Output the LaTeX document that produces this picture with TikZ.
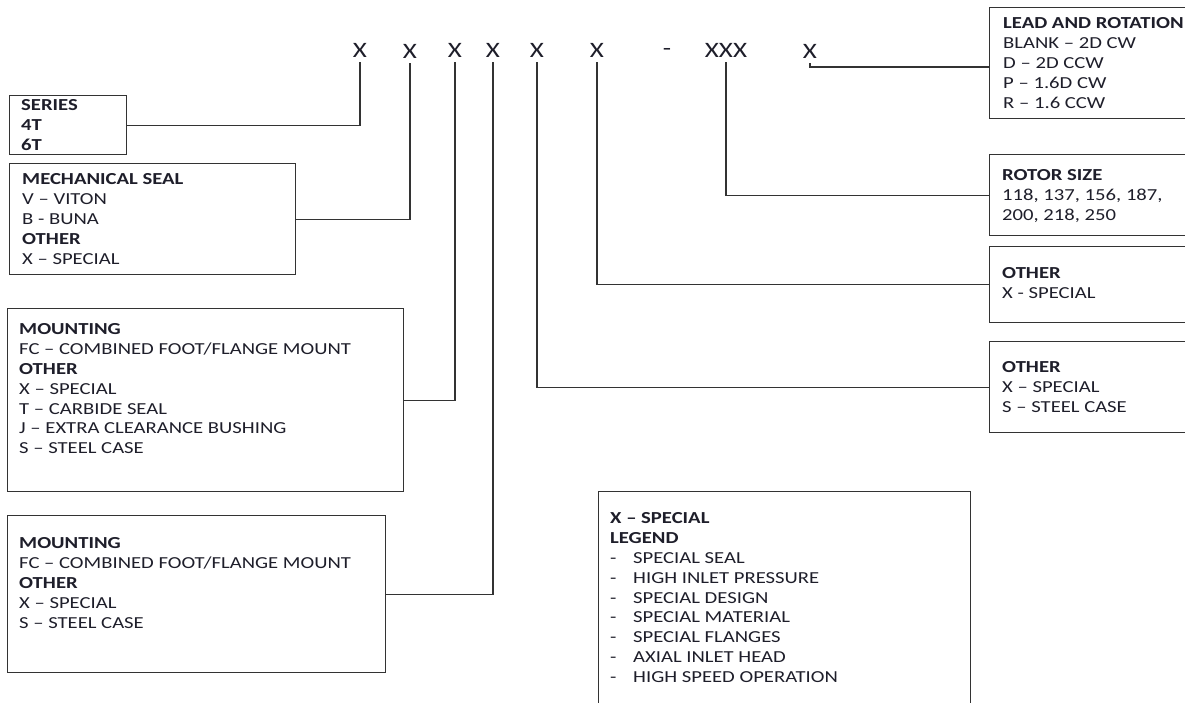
\documentclass[tikz,border=0pt]{standalone}
\usepackage{fontspec}
\setmainfont{Carlito}[FakeStretch=1.23]
\definecolor{txt}{HTML}{1E1E2A}
\definecolor{ln}{HTML}{333333}
\begin{document}
\begin{tikzpicture}[x=1pt,y=-1pt,
  letter/.style={inner sep=0pt,minimum height=24pt,font=\fontsize{22}{24}\selectfont,text=txt},
  box/.style={draw=ln,line width=1.2pt,anchor=north west,inner sep=0pt},
  label/.style={anchor=north west,yshift=13.2pt,inner sep=0pt,align=left,text=txt,font=\fontsize{16.8}{19.8}\selectfont},
  conn/.style={draw=ln,line width=1.2pt}]
\useasboundingbox (0,0) rectangle (1185,702);
\clip (0,0) rectangle (1185,702);
% code letters
\node[letter] (x1) at (360,50) {X};
\node[letter] (x2) at (410,51) {X};
\node[letter] (x3) at (455,50) {X};
\node[letter] (x4) at (493,50) {X};
\node[letter] (x5) at (537,50) {X};
\node[letter] (x6) at (597,50) {X};
\node[letter] (dash) at (667,52) {-};
\node[letter] (x7) at (726,50) {XXX};
\node[letter] (x8) at (810,51) {X};
% left boxes
\node[box,minimum width=117pt,minimum height=59pt] (series) at (9,95) {};
\node[label] (seriest) at (21,110) {\strut\textbf{SERIES}\\\textbf{4T}\\\textbf{6T}};
\node[box,minimum width=286pt,minimum height=111pt] (mech) at (9,163) {};
\node[label] (mecht) at (22,184) {\strut\textbf{MECHANICAL SEAL}\\V -- VITON\\B - BUNA\\\textbf{OTHER}\\X -- SPECIAL};
\node[box,minimum width=396pt,minimum height=183pt] (mount1) at (7,308) {};
\node[label] (mount1t) at (19,334) {\strut\textbf{MOUNTING}\\FC -- COMBINED FOOT/FLANGE MOUNT\\\textbf{OTHER}\\X -- SPECIAL\\T -- CARBIDE SEAL\\J -- EXTRA CLEARANCE BUSHING\\S -- STEEL CASE};
\node[box,minimum width=378pt,minimum height=157pt] (mount2) at (7,515) {};
\node[label] (mount2t) at (19,548) {\strut\textbf{MOUNTING}\\FC -- COMBINED FOOT/FLANGE MOUNT\\\textbf{OTHER}\\X -- SPECIAL\\S -- STEEL CASE};
% right boxes
\node[box,minimum width=210pt,minimum height=111pt] (lead) at (989,7) {};
\node[label] (leadt) at (1003,28) {\strut\textbf{LEAD AND ROTATION}\\BLANK -- 2D CW\\D -- 2D CCW\\P -- 1.6D CW\\R -- 1.6 CCW};
\node[box,minimum width=210pt,minimum height=81pt] (rotor) at (989,154) {};
\node[label] (rotort) at (1002,180) {\strut\textbf{ROTOR SIZE}\\118, 137, 156, 187,\\200, 218, 250};
\node[box,minimum width=210pt,minimum height=76pt] (other1) at (989,246) {};
\node[label] (other1t) at (1002,278) {\strut\textbf{OTHER}\\X - SPECIAL};
\node[box,minimum width=210pt,minimum height=91pt] (other2) at (989,341) {};
\node[label] (other2t) at (1002,372) {\strut\textbf{OTHER}\\X -- SPECIAL\\S -- STEEL CASE};
% legend
\node[box,minimum width=372pt,minimum height=230pt] (legend) at (598,491) {};
\node[label] (legendt) at (610,523) {\strut\textbf{X -- SPECIAL}\\\textbf{LEGEND}\\
\makebox[23pt][l]{-}SPECIAL SEAL\\
\makebox[23pt][l]{-}HIGH INLET PRESSURE\\
\makebox[23pt][l]{-}SPECIAL DESIGN\\
\makebox[23pt][l]{-}SPECIAL MATERIAL\\
\makebox[23pt][l]{-}SPECIAL FLANGES\\
\makebox[23pt][l]{-}AXIAL INLET HEAD\\
\makebox[23pt][l]{-}HIGH SPEED OPERATION};
% connectors
\draw[conn] (x1.south) |- (series.east);
\draw[conn] (x2.south) |- (mech.east);
\draw[conn] (x3.south) |- (mount1.east);
\draw[conn] (x4.south) |- (mount2.east);
\draw[conn] (x5.south) |- (other2.west);
\draw[conn] (x6.south) |- (other1.west);
\draw[conn] (x7.south) |- (rotor.west);
\coordinate (leadin) at (989,67);
\draw[conn] (x8.south) |- (leadin);
\end{tikzpicture}
\end{document}
